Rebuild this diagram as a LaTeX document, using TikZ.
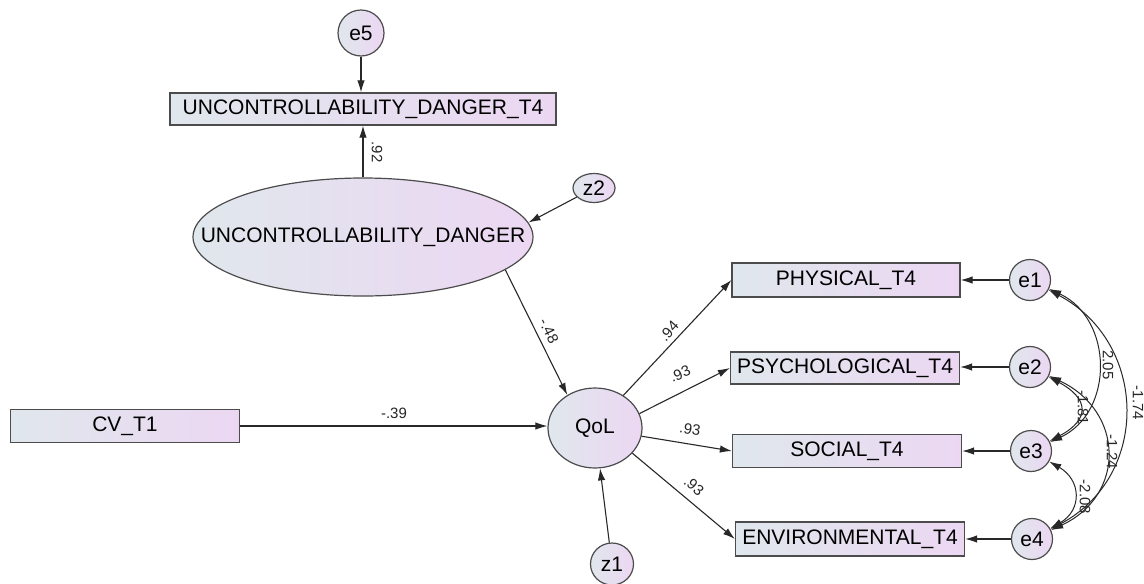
\documentclass[tikz,border=0pt]{standalone}
\usepackage{fontspec}
\setmainfont{Liberation Sans}
\usetikzlibrary{shapes.geometric,arrows.meta}
\definecolor{lcol}{RGB}{224,231,237}
\definecolor{rcol}{RGB}{236,215,242}
\definecolor{edgecol}{RGB}{40,40,40}
\begin{document}
\begin{tikzpicture}[x=1pt,y=1pt,
  fillgrad/.style={left color=lcol, right color=rcol},
  box/.style={draw=black!70, line width=1.2pt, rectangle, fillgrad, font=\fontsize{21}{25}\selectfont, inner sep=0pt, minimum height=33pt},
  circ/.style={draw=black!70, line width=1.2pt, ellipse, fillgrad, font=\fontsize{21}{25}\selectfont, inner sep=0pt},
  arr/.style={draw=edgecol, -{Latex[length=12pt,width=7.5pt]}, line width=1.1pt},
  biarr/.style={draw=edgecol, {Latex[length=12pt,width=7.5pt]}-{Latex[length=12pt,width=7.5pt]}, line width=1pt},
  lbl/.style={font=\fontsize{15}{17}\selectfont, inner sep=0pt, text=black!85}
]
\fill[white] (0,0) rectangle (1144,-584);
\useasboundingbox (0,0) rectangle (1144,-584);

% nodes
\node[circ, minimum width=46pt, minimum height=46pt] (e5) at (361,-33) {e5};
\node[box, minimum width=386pt, minimum height=32pt] (ut4) at (363,-109) {UNCONTROLLABILITY\_DANGER\_T4};
\node[circ, minimum width=340pt, minimum height=118pt] (ud) at (363,-237) {\makebox[0pt]{UNCONTROLLABILITY\_DANGER}};
\node[circ, minimum width=42pt, minimum height=29pt] (z2) at (594,-188) {\makebox[0pt]{z2}};
\node[circ, minimum width=94pt, minimum height=80pt] (qol) at (595,-428) {QoL};
\node[circ, minimum width=43pt, minimum height=42pt] (z1) at (612,-564) {z1};
\node[box, minimum width=229pt, minimum height=33pt] (cv) at (125,-426) {CV\_T1};
\node[box, minimum width=228pt, minimum height=34pt] (phys) at (846,-280) {PHYSICAL\_T4};
\node[box, minimum width=229pt, minimum height=32pt] (psy) at (845,-368) {PSYCHOLOGICAL\_T4};
\node[box, minimum width=229pt, minimum height=33pt] (soc) at (847,-451) {SOCIAL\_T4};
\node[box, minimum width=229pt, minimum height=34pt] (env) at (850,-539) {ENVIRONMENTAL\_T4};
\node[circ, minimum size=41pt] (e1) at (1030,-280) {e1};
\node[circ, minimum size=41pt] (e2) at (1030,-367) {e2};
\node[circ, minimum size=41pt] (e3) at (1031,-451) {e3};
\node[circ, minimum size=41pt] (e4) at (1032,-539) {e4};

% paths
\draw[arr] (e5) -- (e5 |- ut4.north);
\draw[arr] (ud) -- (ut4);
\draw[arr] (z2) -- (ud.5);
\draw[arr] (ud.-13) -- (qol.130);
\draw[arr] (cv) -- (cv -| qol.west);
\draw[arr] (z1) -- (qol);
\draw[arr] (qol.49) -- (phys.west);
\draw[arr] (qol.18) -- (psy.west);
\draw[arr] (qol.-10) -- (soc.west);
\draw[arr] (qol.-34) -- (env.west);
\draw[arr] (e1) -- (e1 -| phys.east);
\draw[arr] (e2) -- (e2 -| psy.east);
\draw[arr] (e3) -- (e3 -| soc.east);
\draw[arr] (e4) -- (e4 -| env.east);

% covariances
\draw[biarr] (e1) to[out=-25,in=25,distance=71pt] (e3);
\draw[biarr] (e1) to[out=-28,in=28,distance=113pt] (e4);
\draw[biarr] (e2) to[out=-28,in=28,distance=46pt] (e3);
\draw[biarr] (e2) to[out=-25,in=25,distance=83pt] (e4);
\draw[biarr] (e3) to[out=-30,in=30,distance=37pt] (e4);

% labels
\node[lbl, rotate=-90] (l92) at (377,-152) {.92};
\node[lbl, rotate=-64] (l48) at (549,-331) {-.48};
\node[lbl] (l39) at (394,-413) {-.39};
\node[lbl, rotate=48] (l94) at (669,-331) {.94};
\node[lbl, rotate=24] (l93a) at (680,-374) {.93};
\node[lbl, rotate=-9] (l93b) at (690,-429) {.93};
\node[lbl, rotate=-41] (l93c) at (694,-486) {.93};
\node[lbl, rotate=-90] (c13) at (1108,-365) {2.05};
\node[lbl, rotate=-90] (c23) at (1083,-408) {-1.81};
\node[lbl, rotate=-90] (c14) at (1138,-403) {-1.74};
\node[lbl, rotate=-90] (c24) at (1112,-452) {-1.24};
\node[lbl, rotate=-90] (c34) at (1085,-497) {-2.08};
\end{tikzpicture}
\end{document}
